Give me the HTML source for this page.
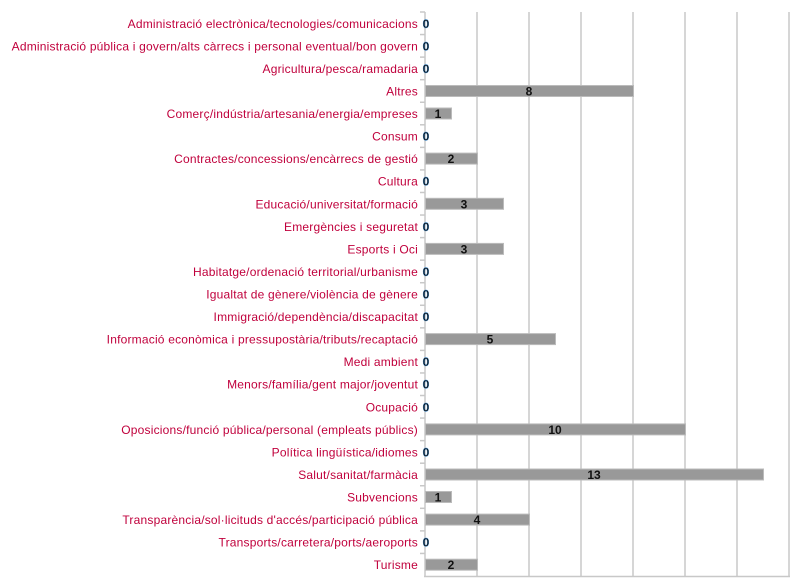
<!DOCTYPE html><html><head><meta charset="utf-8"><style>body{margin:0;background:#fff}svg{display:block}</style></head><body>
<svg width="798" height="587" xmlns="http://www.w3.org/2000/svg" font-family="Liberation Sans, DejaVu Sans, sans-serif">
<g stroke="#c8c8c8" stroke-width="1.5">
<line x1="477" y1="12" x2="477" y2="576"/><line x1="529" y1="12" x2="529" y2="576"/><line x1="581" y1="12" x2="581" y2="576"/><line x1="633" y1="12" x2="633" y2="576"/><line x1="685" y1="12" x2="685" y2="576"/><line x1="737" y1="12" x2="737" y2="576"/><line x1="789" y1="12" x2="789" y2="576"/>
<line x1="425" y1="12" x2="425" y2="577"/><line x1="424" y1="576.5" x2="790" y2="576.5"/>
<line x1="420" x2="425" y1="12" y2="12"/><line x1="420" x2="425" y1="34.56" y2="34.56"/><line x1="420" x2="425" y1="57.12" y2="57.12"/><line x1="420" x2="425" y1="79.68" y2="79.68"/><line x1="420" x2="425" y1="102.24" y2="102.24"/><line x1="420" x2="425" y1="124.8" y2="124.8"/><line x1="420" x2="425" y1="147.36" y2="147.36"/><line x1="420" x2="425" y1="169.92" y2="169.92"/><line x1="420" x2="425" y1="192.48" y2="192.48"/><line x1="420" x2="425" y1="215.04" y2="215.04"/><line x1="420" x2="425" y1="237.6" y2="237.6"/><line x1="420" x2="425" y1="260.16" y2="260.16"/><line x1="420" x2="425" y1="282.72" y2="282.72"/><line x1="420" x2="425" y1="305.28" y2="305.28"/><line x1="420" x2="425" y1="327.84" y2="327.84"/><line x1="420" x2="425" y1="350.4" y2="350.4"/><line x1="420" x2="425" y1="372.96" y2="372.96"/><line x1="420" x2="425" y1="395.52" y2="395.52"/><line x1="420" x2="425" y1="418.08" y2="418.08"/><line x1="420" x2="425" y1="440.64" y2="440.64"/><line x1="420" x2="425" y1="463.2" y2="463.2"/><line x1="420" x2="425" y1="485.76" y2="485.76"/><line x1="420" x2="425" y1="508.32" y2="508.32"/><line x1="420" x2="425" y1="530.88" y2="530.88"/><line x1="420" x2="425" y1="553.44" y2="553.44"/>
</g>
<g font-size="12" fill="#c0003c" text-anchor="end" letter-spacing="0.2">
<text x="418" y="27.8">Administració electrònica/tecnologies/comunicacions</text>
<text x="418" y="50.3">Administració pública i govern/alts càrrecs i personal eventual/bon govern</text>
<text x="418" y="72.9">Agricultura/pesca/ramadaria</text>
<text x="418" y="95.5">Altres</text>
<text x="418" y="118">Comerç/indústria/artesania/energia/empreses</text>
<text x="418" y="140.6">Consum</text>
<text x="418" y="163.1">Contractes/concessions/encàrrecs de gestió</text>
<text x="418" y="185.7">Cultura</text>
<text x="418" y="208.3">Educació/universitat/formació</text>
<text x="418" y="230.8">Emergències i seguretat</text>
<text x="418" y="253.4">Esports i Oci</text>
<text x="418" y="275.9">Habitatge/ordenació territorial/urbanisme</text>
<text x="418" y="298.5">Igualtat de gènere/violència de gènere</text>
<text x="418" y="321.1">Immigració/dependència/discapacitat</text>
<text x="418" y="343.6">Informació econòmica i pressupostària/tributs/recaptació</text>
<text x="418" y="366.2">Medi ambient</text>
<text x="418" y="388.7">Menors/família/gent major/joventut</text>
<text x="418" y="411.3">Ocupació</text>
<text x="418" y="433.9">Oposicions/funció pública/personal (empleats públics)</text>
<text x="418" y="456.4">Política lingüística/idiomes</text>
<text x="418" y="479">Salut/sanitat/farmàcia</text>
<text x="418" y="501.5">Subvencions</text>
<text x="418" y="524.1">Transparència/sol·licituds d'accés/participació pública</text>
<text x="418" y="546.7">Transports/carretera/ports/aeroports</text>
<text x="418" y="569.2">Turisme</text>
</g>
<g fill="#999" stroke="#bbb" stroke-width="1">
<rect x="425.5" y="85.5" width="208" height="11"/>
<rect x="425.5" y="108" width="26" height="11"/>
<rect x="425.5" y="153.1" width="52" height="11"/>
<rect x="425.5" y="198.3" width="78" height="11"/>
<rect x="425.5" y="243.4" width="78" height="11"/>
<rect x="425.5" y="333.6" width="130" height="11"/>
<rect x="425.5" y="423.9" width="260" height="11"/>
<rect x="425.5" y="469" width="338" height="11"/>
<rect x="425.5" y="491.5" width="26" height="11"/>
<rect x="425.5" y="514.1" width="104" height="11"/>
<rect x="425.5" y="559.2" width="52" height="11"/>
</g>
<g font-size="12" font-weight="bold" fill="#111" text-anchor="middle">
<text x="529" y="95.5">8</text>
<text x="438" y="118">1</text>
<text x="451" y="163.1">2</text>
<text x="464" y="208.3">3</text>
<text x="464" y="253.4">3</text>
<text x="490" y="343.6">5</text>
<text x="555" y="433.9">10</text>
<text x="594" y="479">13</text>
<text x="438" y="501.5">1</text>
<text x="477" y="524.1">4</text>
<text x="451" y="569.2">2</text>
</g>
<g font-size="12" font-weight="bold" fill="#111" stroke="#3a8fd8" stroke-width="0.4" text-anchor="middle">
<text x="426" y="27.8">0</text><text x="426" y="50.3">0</text><text x="426" y="72.9">0</text><text x="426" y="140.6">0</text><text x="426" y="185.7">0</text><text x="426" y="230.8">0</text><text x="426" y="275.9">0</text><text x="426" y="298.5">0</text><text x="426" y="321.1">0</text><text x="426" y="366.2">0</text><text x="426" y="388.7">0</text><text x="426" y="411.3">0</text><text x="426" y="456.4">0</text><text x="426" y="546.7">0</text>
</g>
</svg></body></html>
